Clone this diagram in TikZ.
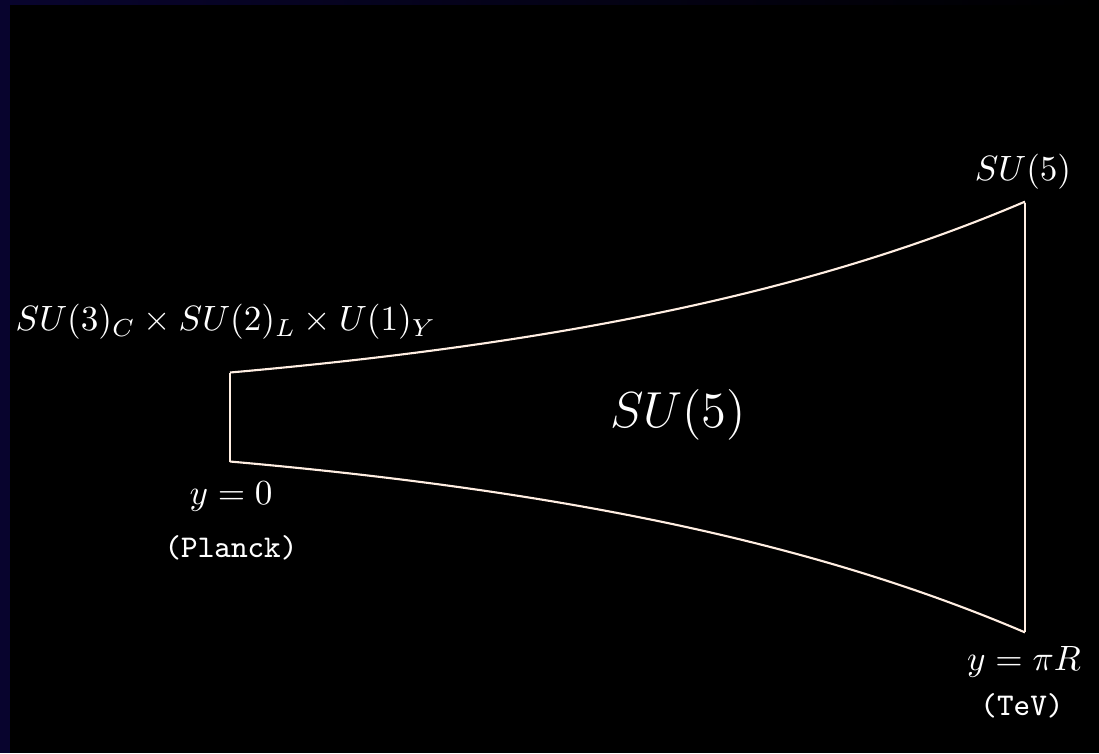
\documentclass[tikz,border=0pt]{standalone}
\usepackage{tikz}
\usetikzlibrary{positioning,calc}
\usepackage{amsmath,amssymb}
\usepackage{xcolor}
\definecolor{bgnavy}{RGB}{8,4,46}
\definecolor{branecol}{RGB}{255,238,226}

\begin{document}
\begin{tikzpicture}[x=0.01cm,y=-0.01cm,
    lbl/.style={text=white,inner sep=0pt,font=\normalsize},
    ttlbl/.style={text=white,inner sep=0pt,font=\small\ttfamily}]
  \useasboundingbox (0,0) rectangle (1099,753);
  \fill[black](0,0) rectangle (1099,753);
  \shade[left color=bgnavy,right color=black](0,0) rectangle (1099,4);
  \fill[bgnavy](0,0) rectangle (10,753);
  % warped bulk between the two branes
  \coordinate (uvtop) at (230,372.5);
  \coordinate (uvbot) at (230,461.5);
  \coordinate (irtop) at (1025,203);
  \coordinate (irbot) at (1025,632);
  \draw[branecol,line width=0.6pt](uvtop)--(uvbot);
  \draw[branecol,line width=0.6pt](irtop)--(irbot);
  \draw[branecol,line width=0.6pt] plot[domain=230:1025,samples=80]
    (\x,{417-44.5*exp(0.001979*(\x-230))});
  \draw[branecol,line width=0.6pt] plot[domain=230:1025,samples=80]
    (\x,{417+44.5*exp(0.001979*(\x-230))});
  \node[lbl,font=\fontsize{13.5}{16}\selectfont] (bulk) at (678,415){$SU(5)$};
  \node[lbl,font=\fontsize{9.85}{12}\selectfont] (smgrp) at (226,322)
    {$SU(3)_C\times SU(2)_L\times U(1)_Y$};
  \node[lbl] (irgrp) at (1023,172){$SU(5)$};
  \node[lbl] (uvpos) at (231,497){$y=0$};
  \node[ttlbl] (uvscale) at (231,548){(Planck)};
  \node[lbl] (irpos) at (1024,662){$y=\pi R$};
  \node[ttlbl] (irscale) at (1022,706){(TeV)};
\end{tikzpicture}
\end{document}
